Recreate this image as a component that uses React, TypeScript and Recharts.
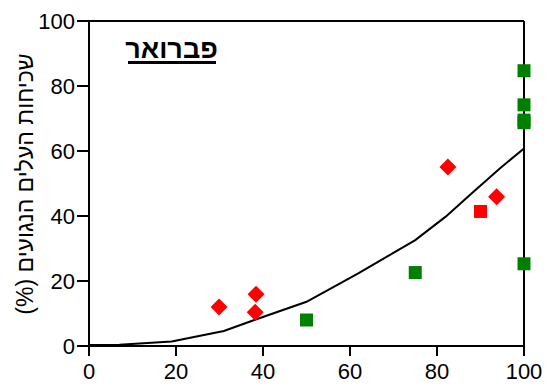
import React from 'react';
import { ComposedChart, Line, Scatter, XAxis, YAxis, ReferenceLine, Label } from 'recharts';

const curveX = [0, 7, 19, 31, 38, 50, 62, 75, 82, 88, 94.5, 100];
const curveY = [0.3, 0.4, 1.4, 4.6, 8, 13.6, 22.4, 32.6, 39.8, 47, 54.7, 60.8];

const redDiamondX = [29.9, 38.2, 38.4, 82.5, 93.7];
const redDiamondY = [12, 10.4, 15.9, 55.1, 45.9];

const redSquareX = [90];
const redSquareY = [41.4];

const greenSquareX = [50, 75, 100, 100, 100, 100, 100];
const greenSquareY = [8, 22.6, 25.3, 68.7, 69.5, 74.2, 84.7];

const axisTicks = [0, 20, 40, 60, 80, 100];
const titleText = 'פברואר';
const yLabelText = 'שכיחות העלים הנגועים (%)';

const FONT = '"Liberation Sans", Arial, sans-serif';

const zip = (xs: number[], ys: number[]) => xs.map((x, i) => ({ x, y: ys[i] }));

const curveData = zip(curveX, curveY);
const redDiamonds = zip(redDiamondX, redDiamondY);
const redSquares = zip(redSquareX, redSquareY);
const greenSquares = zip(greenSquareX, greenSquareY);

const Square = (color: string) => (props: any) => {
  const { cx, cy } = props;
  if (cx == null || cy == null) return <g />;
  return <rect x={cx - 6.5} y={cy - 6.5} width={13} height={13} fill={color} />;
};

const Diamond = (color: string) => (props: any) => {
  const { cx, cy } = props;
  if (cx == null || cy == null) return <g />;
  const r = 8.5;
  return <polygon points={`${cx},${cy - r} ${cx + r},${cy} ${cx},${cy + r} ${cx - r},${cy}`} fill={color} />;
};

export default function App() {
  return (
    <div style={{ position: 'absolute', left: 0, top: 0 }}>
      <ComposedChart
        width={551}
        height={385}
        data={curveData}
        margin={{ top: 21, right: 27, bottom: 0, left: 0 }}
      >
        <XAxis
          dataKey="x"
          type="number"
          domain={[0, 100]}
          ticks={axisTicks}
          height={39}
          tickSize={10}
          tickMargin={7}
          axisLine={{ stroke: '#000', strokeWidth: 2 }}
          tickLine={{ stroke: '#000', strokeWidth: 2 }}
          tick={{ fill: '#000', fontSize: 22, fontFamily: FONT }}
        />
        <YAxis
          type="number"
          domain={[0, 100]}
          ticks={axisTicks}
          width={89}
          tickSize={12}
          tickMargin={2}
          axisLine={{ stroke: '#000', strokeWidth: 2 }}
          tickLine={{ stroke: '#000', strokeWidth: 2 }}
          tick={{ fill: '#000', fontSize: 22, fontFamily: FONT }}
        >
          <Label
            content={() => (
              <text
                x={25}
                y={184}
                transform="rotate(-90, 25, 184)"
                textAnchor="middle"
                dominantBaseline="central"
                fontSize={23}
                fontFamily={FONT}
                fill="#000"
                direction="rtl"
                style={{ direction: 'rtl', unicodeBidi: 'embed' }}
              >
                {yLabelText}
              </text>
            )}
          />
        </YAxis>
        <ReferenceLine y={100} stroke="#000" strokeWidth={2} ifOverflow="visible" />
        <ReferenceLine x={100} stroke="#000" strokeWidth={2} ifOverflow="visible">
          <Label
            content={() => (
              <g>
                <text
                  x={171.5}
                  y={58}
                  textAnchor="middle"
                  fontSize={27}
                  fontWeight="bold"
                  fontFamily={FONT}
                  fill="#000"
                  direction="rtl"
                  style={{ direction: 'rtl' }}
                >
                  {titleText}
                </text>
                <line x1={128} x2={216} y1={62.5} y2={62.5} stroke="#000" strokeWidth={3} />
              </g>
            )}
          />
        </ReferenceLine>
        <Line
          dataKey="y"
          type="linear"
          stroke="#000"
          strokeWidth={2}
          dot={false}
          activeDot={false}
          isAnimationActive={false}
        />
        <Scatter data={greenSquares} dataKey="y" shape={Square('#008000')} isAnimationActive={false} />
        <Scatter data={redSquares} dataKey="y" shape={Square('#FF0000')} isAnimationActive={false} />
        <Scatter data={redDiamonds} dataKey="y" shape={Diamond('#FF0000')} isAnimationActive={false} />
      </ComposedChart>
    </div>
  );
}
